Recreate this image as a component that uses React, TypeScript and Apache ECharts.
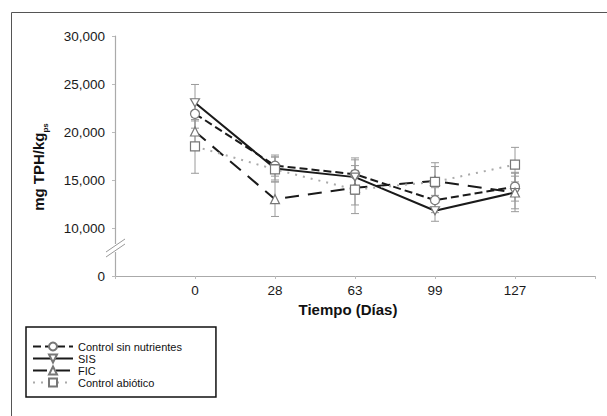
import React, { useEffect, useRef } from "react";
import * as echarts from "echarts";

const days = ["0", "28", "63", "99", "127"];
const seriesNames = ["Control sin nutrientes", "SIS", "FIC", "Control abiótico"];

const csnValues = [21900, 16500, 15600, 12900, 14300];
const csnErr = [1500, 1100, 1700, 1300, 1500];
const sisValues = [23050, 16200, 15300, 11800, 13700];
const sisErr = [1900, 1200, 1800, 1100, 1700];
const ficValues = [20050, 13000, 14200, 14900, 13700];
const ficErr = [1500, 1800, 1800, 1500, 2000];
const caValues = [18500, 16100, 14000, 14800, 16600];
const caErr = [2800, 1300, 2500, 2000, 1800];

const yMin = 5000;
const yMax = 30000;
const yStep = 5000;

const toPoints = (vals: number[]) => vals.map((v, i) => [i, v]);
const toErr = (vals: number[], errs: number[]) =>
  vals.map((v, i) => [i, v - errs[i], v + errs[i]]);

const errSeries = (name: string, vals: number[], errs: number[]) => ({
  type: "custom",
  name: name + " err",
  z: 1,
  silent: true,
  data: toErr(vals, errs),
  renderItem: (_params: any, api: any) => {
    const x = api.value(0);
    const top = api.coord([x, api.value(2)]);
    const bot = api.coord([x, api.value(1)]);
    const w = 4;
    const st = { stroke: "#9a9a9a", lineWidth: 1 };
    return {
      type: "group",
      children: [
        { type: "line", shape: { x1: top[0], y1: top[1], x2: bot[0], y2: bot[1] }, style: st },
        { type: "line", shape: { x1: top[0] - w, y1: top[1], x2: top[0] + w, y2: top[1] }, style: st },
        { type: "line", shape: { x1: bot[0] - w, y1: bot[1], x2: bot[0] + w, y2: bot[1] }, style: st },
      ],
    };
  },
});

export default function App() {
  const ref = useRef<HTMLDivElement>(null);
  useEffect(() => {
    if (!ref.current) return;
    const chart = echarts.init(ref.current, null, { renderer: "svg" });
    const markerStyle = { color: "#fff", borderColor: "#777", borderWidth: 1.2 };
    chart.setOption({
      animation: false,
      backgroundColor: "#fff",
      textStyle: { fontFamily: "Liberation Sans, Arial, sans-serif" },
      grid: { left: 115, right: 12, top: 36, bottom: 140 },
      legend: {
        data: seriesNames,
        orient: "vertical",
        left: 26,
        top: 327,
        padding: [14, 34, 9, 6],
        itemWidth: 40,
        itemHeight: 10,
        itemGap: 1,
        borderColor: "#111",
        borderWidth: 1.5,
        textStyle: { fontSize: 11, color: "#111", lineHeight: 11 },
      },
      xAxis: {
        type: "value",
        min: -1,
        max: 5,
        interval: 1,
        splitLine: { show: false },
        axisLine: { onZero: false, lineStyle: { color: "#aaa", width: 1.2 } },
        axisTick: { show: true, length: 3, lineStyle: { color: "#bbb" } },
        axisLabel: {
          fontSize: 13.5,
          color: "#1a1a1a",
          margin: 7,
          formatter: (v: number) => (v >= 0 && v < days.length ? days[v] : ""),
        },
        name: "Tiempo (Días)",
        nameLocation: "middle",
        nameGap: 26,
        nameTextStyle: { fontSize: 15, fontWeight: "bold", color: "#111", padding: [0, 14, 0, 0] },
      },
      yAxis: {
        type: "value",
        min: yMin,
        max: yMax,
        interval: yStep,
        splitLine: { show: false },
        axisLine: { show: true, onZero: false, lineStyle: { color: "#aaa", width: 1.2 } },
        axisTick: { show: true, length: 3, lineStyle: { color: "#bbb" } },
        axisLabel: {
          fontSize: 13.5,
          color: "#1a1a1a",
          margin: 10,
          formatter: (v: number) => (v === yMin ? "0" : v.toLocaleString("en-US")),
        },
        name: "mg TPH/kg{s|ps}",
        nameLocation: "middle",
        nameGap: 66,
        nameRotate: 90,
        nameTextStyle: {
          fontSize: 15,
          fontWeight: "bold",
          color: "#111",
          padding: [0, 22, 0, 0],
          rich: { s: { fontSize: 8, fontWeight: "bold", color: "#111", verticalAlign: "bottom", lineHeight: 22 } },
        },
      },
      series: [
        errSeries(seriesNames[0], csnValues, csnErr),
        errSeries(seriesNames[1], sisValues, sisErr),
        errSeries(seriesNames[2], ficValues, ficErr),
        errSeries(seriesNames[3], caValues, caErr),
        {
          type: "line",
          name: seriesNames[0],
          data: toPoints(csnValues),
          symbol: "circle",
          symbolSize: 9,
          z: 3,
          lineStyle: { color: "#1a1a1a", width: 2, type: [8, 4] },
          itemStyle: markerStyle,
        },
        {
          type: "line",
          name: seriesNames[1],
          data: toPoints(sisValues),
          symbol: "path://M0,0 L10,0 L5,9 Z",
          symbolSize: [9, 8],
          z: 3,
          lineStyle: { color: "#1a1a1a", width: 2 },
          itemStyle: markerStyle,
        },
        {
          type: "line",
          name: seriesNames[2],
          data: toPoints(ficValues),
          symbol: "triangle",
          symbolSize: 9,
          z: 3,
          lineStyle: { color: "#1a1a1a", width: 2, type: [14, 9] },
          itemStyle: markerStyle,
        },
        {
          type: "line",
          name: seriesNames[3],
          data: toPoints(caValues),
          symbol: "rect",
          symbolSize: 9,
          z: 3,
          lineStyle: { color: "#aaa", width: 2, type: [2, 6] },
          itemStyle: markerStyle,
        },
      ],
      graphic: [
        {
          type: "rect",
          shape: { x: 11.5, y: 12.5, width: 620, height: 420 },
          style: { fill: "none", stroke: "#555", lineWidth: 1 },
          silent: true,
        },
        {
          type: "rect",
          shape: { x: 110, y: 244, width: 10, height: 8 },
          style: { fill: "#fff" },
          z: 10,
          silent: true,
        },
        {
          type: "line",
          shape: { x1: 106, y1: 252, x2: 125, y2: 239 },
          style: { stroke: "#999", lineWidth: 1 },
          z: 11,
          silent: true,
        },
        {
          type: "line",
          shape: { x1: 106, y1: 257, x2: 125, y2: 244 },
          style: { stroke: "#999", lineWidth: 1 },
          z: 11,
          silent: true,
        },
      ],
    });
    return () => chart.dispose();
  }, []);
  return (
    <div
      ref={ref}
      style={{ position: "fixed", left: 0, top: 0, width: 607, height: 416, background: "#fff" }}
    />
  );
}
